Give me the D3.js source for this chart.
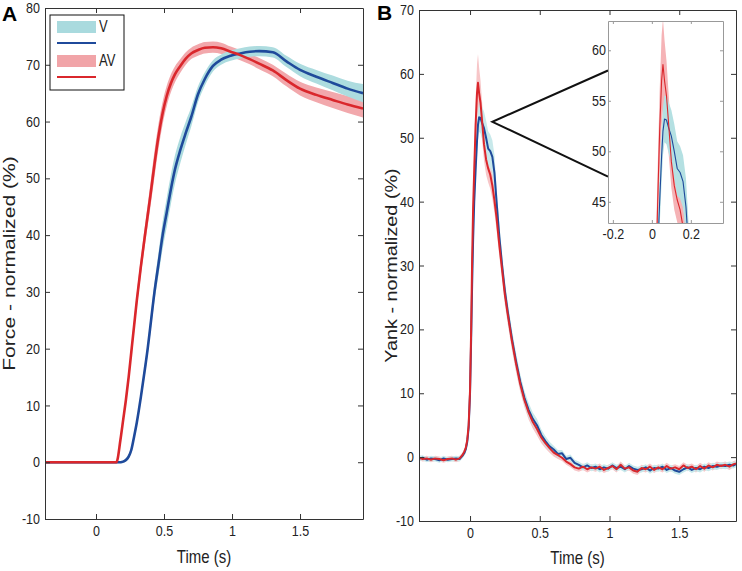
<!DOCTYPE html>
<html>
<head>
<meta charset="utf-8">
<script src="https://cdn.jsdelivr.net/npm/d3@7"></script>
<style>
body { margin: 0; background: #fff; }
svg text { font-family: "Liberation Sans", Arial, sans-serif; fill: #222; }
</style>
</head>
<body>
<svg id="chart" width="742" height="571"></svg>
<script>
// ---- Panel A: force (normalized %) ----
const forceTime = [
  -0.375, 0.10, 0.15, 0.18, 0.20, 0.22, 0.24, 0.26, 0.28, 0.30,
  0.33, 0.36, 0.38, 0.40, 0.43, 0.46, 0.49, 0.52, 0.55, 0.58,
  0.62, 0.66, 0.70, 0.75, 0.80, 0.86, 0.92, 0.99, 1.06, 1.13,
  1.20, 1.30, 1.40, 1.50, 1.62, 1.74, 1.85, 1.963
];
const forceV = [
  0, 0, 0, 0, 0.1, 0.4, 1, 2.2, 4.5, 7,
  11.5, 16.5, 20, 24, 30, 35, 40, 44, 48, 51.5,
  55, 58, 60.8, 64.8, 67.5, 69.8, 70.9, 71.6, 72, 72.3,
  72.4, 72.2, 70.6, 69.1, 67.9, 66.8, 65.8, 65.0
];
const forceVsem = [
  0.2, 0.2, 0.2, 0.2, 0.2, 0.3, 0.4, 0.5, 0.6, 0.7,
  0.8, 1, 1.1, 1.3, 1.6, 2, 2.4, 2.6, 2.6, 2.5,
  2.3, 2, 1.7, 1.4, 1.2, 1, 0.9, 0.9, 0.9, 0.9,
  0.9, 0.9, 1, 1.1, 1.2, 1.3, 1.4, 1.6
];
const forceAV = [
  0, 0, 0, 4, 7.5, 11, 15, 19.5, 24, 28.5,
  34.5, 40, 43.5, 47, 52.5, 57.5, 61.5, 64.5, 66.7, 68.3,
  69.8, 71.1, 72, 72.6, 73, 73.1, 72.9, 72.3, 71.7, 71,
  70.2, 69, 67.3, 65.8, 64.7, 63.8, 63.0, 62.3
];
const forceAVsem = [
  0.2, 0.2, 0.2, 0.4, 0.6, 0.8, 1, 1.1, 1.2, 1.3,
  1.5, 1.7, 1.9, 2.1, 2.3, 2.2, 2, 1.8, 1.6, 1.4,
  1.2, 1.1, 1, 1, 1, 1, 1, 0.9, 0.9, 0.9,
  1, 1, 1.1, 1.2, 1.3, 1.4, 1.5, 1.6
];

// ---- Panel B: yank (normalized %) ----
const yankTime = [
  -0.366, -0.34, -0.31, -0.28, -0.25, -0.22, -0.19, -0.16, -0.13, -0.10,
  -0.075, -0.055, -0.04, -0.03, -0.02, -0.01, 0, 0.008, 0.015, 0.022,
  0.03, 0.04, 0.05, 0.057, 0.065, 0.075, 0.085, 0.10, 0.115, 0.13,
  0.145, 0.16, 0.175, 0.19, 0.21, 0.23, 0.25, 0.27, 0.30, 0.33,
  0.36, 0.39, 0.42, 0.45, 0.48, 0.51, 0.54, 0.57, 0.60, 0.63,
  0.66, 0.69, 0.72, 0.75, 0.78, 0.81, 0.84, 0.87, 0.90, 0.93,
  0.96, 0.99, 1.02, 1.05, 1.08, 1.11, 1.14, 1.17, 1.20, 1.23,
  1.26, 1.29, 1.32, 1.35, 1.38, 1.41, 1.44, 1.47, 1.50, 1.53,
  1.56, 1.59, 1.62, 1.65, 1.68, 1.71, 1.74, 1.77, 1.80, 1.83,
  1.86, 1.89, 1.907
];
const yankV = [
  -0.2, -0.1, -0.4, -0.2, -0.3, -0.5, -0.2, -0.4, -0.3, -0.2,
  -0.3, 0.2, 0.7, 1.3, 2.4, 4.6, 10, 18.5, 27, 34,
  40, 45, 49.5, 52, 53.2, 53.1, 52.4, 51.5, 50, 48.3,
  47.9, 47.0, 44.5, 40, 34.5, 30, 26, 22.8, 18.6, 15,
  11.8, 9.3, 7.4, 6.0, 5.0, 3.5, 2.5, 1.7, 1.2, 0.5,
  0.6, -0.3, -0.1, -0.9, -1.2, -1.6, -1.3, -1.7, -1.5, -1.9,
  -1.6, -1.8, -1.3, -1.7, -1.5, -1.9, -1.4, -1.8, -2.0, -1.9,
  -1.6, -2.1, -1.7, -1.8, -1.5, -2.0, -1.7, -2.1, -2.3, -1.9,
  -1.6, -2.0, -1.7, -1.9, -1.5, -1.7, -1.4, -1.5, -1.3, -1.4,
  -1.2, -1.3, -1.1
];
const yankVsem = [
  0.4, 0.4, 0.4, 0.4, 0.4, 0.4, 0.4, 0.4, 0.4, 0.4,
  0.4, 0.4, 0.5, 0.6, 0.8, 1, 1.3, 1.6, 2, 2.2,
  2.4, 2.5, 2.5, 2.4, 2.3, 2.4, 2.5, 2.6, 2.7, 2.7,
  2.6, 2.6, 2.8, 2.4, 2, 1.8, 1.6, 1.5, 1.4, 1.3,
  1.2, 1.1, 1.1, 1, 1, 0.9, 0.8, 0.7, 0.6, 0.6,
  0.5, 0.5, 0.5, 0.5, 0.5, 0.5, 0.5, 0.5, 0.5, 0.5,
  0.5, 0.5, 0.5, 0.5, 0.5, 0.5, 0.5, 0.5, 0.5, 0.5,
  0.5, 0.5, 0.5, 0.5, 0.5, 0.5, 0.5, 0.5, 0.5, 0.5,
  0.5, 0.5, 0.5, 0.5, 0.5, 0.5, 0.5, 0.5, 0.5, 0.5,
  0.5, 0.5, 0.5
];
const yankAV = [
  -0.1, -0.3, -0.2, -0.4, -0.2, -0.3, -0.5, -0.3, -0.2, -0.4,
  -0.2, 0.3, 0.9, 1.5, 2.7, 5.0, 10.5, 20, 31, 39,
  45, 52, 57, 58.6, 57, 55.5, 53, 49, 46.6, 45.2,
  44.2, 42.5, 40.2, 37.5, 33.2, 29.3, 25.4, 22.4, 18.2, 14.6,
  11.4, 8.9, 7.0, 5.5, 4.4, 3.1, 2.2, 1.4, 0.7, 0.3,
  -0.1, -0.7, -1.1, -1.6, -1.8, -1.5, -1.9, -1.6, -1.8, -1.5,
  -2.0, -1.7, -1.4, -1.9, -1.2, -1.8, -1.6, -2.1, -2.3, -1.7,
  -1.9, -1.5, -2.0, -1.6, -1.9, -1.4, -1.8, -1.6, -1.9, -1.3,
  -1.7, -1.5, -1.9, -1.4, -1.8, -1.3, -1.6, -1.2, -1.4, -1.2,
  -1.5, -1.1, -1.0
];
const yankAVsem = [
  0.4, 0.4, 0.4, 0.4, 0.4, 0.4, 0.4, 0.4, 0.4, 0.4,
  0.4, 0.4, 0.5, 0.6, 0.8, 1, 1.5, 2, 2.5, 3,
  3.5, 4, 4.5, 4.5, 4, 3.5, 3, 2.6, 2.4, 2.2,
  2.2, 2.1, 2, 1.9, 1.8, 1.7, 1.6, 1.5, 1.4, 1.3,
  1.2, 1.1, 1.1, 1, 1, 0.9, 0.8, 0.7, 0.6, 0.6,
  0.5, 0.5, 0.5, 0.5, 0.5, 0.5, 0.5, 0.5, 0.5, 0.5,
  0.5, 0.5, 0.5, 0.5, 0.5, 0.5, 0.5, 0.5, 0.5, 0.5,
  0.5, 0.5, 0.5, 0.5, 0.5, 0.5, 0.5, 0.5, 0.5, 0.5,
  0.5, 0.5, 0.5, 0.5, 0.5, 0.5, 0.5, 0.5, 0.5, 0.5,
  0.5, 0.5, 0.5
];

// ticks
const forceXTicks = [0, 0.5, 1, 1.5];
const forceYTicks = [-10, 0, 10, 20, 30, 40, 50, 60, 70, 80];
const yankXTicks = [0, 0.5, 1, 1.5];
const yankYTicks = [-10, 0, 10, 20, 30, 40, 50, 60, 70];
const insetXTicks = [-0.2, 0, 0.2];
const insetYTicks = [45, 50, 55, 60];
const legendLabels = ['V', 'AV'];

const blue = '#1f4a9b', red = '#da272c';

const svg = d3.select('#chart');

function zipSeries(t, m, s) {
  return t.map((d, i) => ({ t: d, m: m[i], s: s[i] }));
}
const fV = zipSeries(forceTime, forceV, forceVsem);
const fAV = zipSeries(forceTime, forceAV, forceAVsem);
const yV = zipSeries(yankTime, yankV, yankVsem);
const yAV = zipSeries(yankTime, yankAV, yankAVsem);

// scales
const xA = d3.scaleLinear().domain([-0.375, 1.963]).range([45, 363]);
const yA = d3.scaleLinear().domain([-10, 80]).range([519, 8]);
const xB = d3.scaleLinear().domain([-0.366, 1.907]).range([419, 736]);
const yB = d3.scaleLinear().domain([-10, 70]).range([521, 10]);
const xI = d3.scaleLinear().domain([-0.225, 0.365]).range([608, 723]);
const yI = d3.scaleLinear().domain([42.9, 62.9]).range([223, 21]);

function clipFor(id, x, y) {
  svg.append('clipPath').attr('id', id).append('rect')
    .attr('x', x.range()[0]).attr('y', y.range()[1])
    .attr('width', x.range()[1] - x.range()[0])
    .attr('height', y.range()[0] - y.range()[1]);
}

function drawSeries(g, x, y, data, bandColor, lineColor, lw, curve) {
  const area = d3.area().curve(curve)
    .x(d => x(d.t)).y0(d => y(d.m - d.s)).y1(d => y(d.m + d.s));
  const line = d3.line().curve(curve).x(d => x(d.t)).y(d => y(d.m));
  return {
    band: () => g.append('path').datum(data).attr('d', area).attr('fill', bandColor),
    line: () => g.append('path').datum(data).attr('d', line)
      .attr('fill', 'none').attr('stroke', lineColor).attr('stroke-width', lw)
      .attr('stroke-linejoin', 'round')
  };
}

function drawAxes(g, x, y, xTicks, yTicks, o) {
  const [x0, x1] = x.range(), [y0, y1] = y.range();
  const fmt = d => String(d);
  const b = g.append('g').attr('transform', `translate(0,${y0})`)
    .call(d3.axisBottom(x).tickValues(xTicks).tickFormat(fmt)
      .tickSizeInner(-o.tick).tickSizeOuter(0).tickPadding(o.padX));
  g.append('g').attr('transform', `translate(0,${y1})`)
    .call(d3.axisTop(x).tickValues(xTicks).tickFormat('')
      .tickSizeInner(-o.tick).tickSizeOuter(0));
  const l = g.append('g').attr('transform', `translate(${x0},0)`)
    .call(d3.axisLeft(y).tickValues(yTicks).tickFormat(fmt)
      .tickSizeInner(-o.tick).tickSizeOuter(0).tickPadding(o.padY));
  g.append('g').attr('transform', `translate(${x1},0)`)
    .call(d3.axisRight(y).tickValues(yTicks).tickFormat('')
      .tickSizeInner(-o.tick).tickSizeOuter(0));
  g.selectAll('.domain').attr('stroke', o.frame).attr('stroke-width', o.fw);
  g.selectAll('.tick line').attr('stroke', o.frame).attr('stroke-width', o.fw);
  [b, l].forEach(a => a.attr('font-family', null).attr('font-size', null));
  g.selectAll('.tick text').attr('font-size', o.fs).style('fill', '#222')
    .attr('transform', 'scale(1,1.15)');
}

// ---- Panel A ----
clipFor('clipA', xA, yA);
const gA = svg.append('g');
const plotA = gA.append('g').attr('clip-path', 'url(#clipA)');
const sAV = drawSeries(plotA, xA, yA, fAV, '#f2a8ac', red, 2.6, d3.curveMonotoneX);
const sV = drawSeries(plotA, xA, yA, fV, '#addcdf', blue, 2.6, d3.curveMonotoneX);
sAV.band(); sV.band(); sV.line(); sAV.line();
drawAxes(gA, xA, yA, forceXTicks, forceYTicks,
  { tick: 5, padX: 6, padY: 5, frame: '#333', fw: 1, fs: 12.5 });

// legend
const leg = gA.append('g');
leg.append('rect').attr('x', 50).attr('y', 15).attr('width', 74).attr('height', 75)
  .attr('fill', '#fff').attr('stroke', '#111').attr('stroke-width', 1);
const legColors = [['#a9dade', blue], ['#f1a4a8', red]];
legendLabels.forEach((lab, i) => {
  const y0 = 21 + i * 34;
  leg.append('rect').attr('x', 57).attr('y', y0).attr('width', 39).attr('height', 12)
    .attr('fill', legColors[i][0]);
  leg.append('line').attr('x1', 57).attr('x2', 96).attr('y1', y0 + 22).attr('y2', y0 + 22)
    .attr('stroke', legColors[i][1]).attr('stroke-width', 2.2);
  leg.append('text').attr('transform', `translate(99,${y0 + 11}) scale(1,1.3)`)
    .attr('font-size', 13).text(lab);
});

// ---- Panel B ----
clipFor('clipB', xB, yB);
const gB = svg.append('g');
const plotB = gB.append('g').attr('clip-path', 'url(#clipB)');
const bAV = drawSeries(plotB, xB, yB, yAV, '#f7c6c8', red, 2, d3.curveLinear);
const bV = drawSeries(plotB, xB, yB, yV, '#c8e9eb', blue, 2, d3.curveLinear);
bAV.band(); bV.band(); bV.line(); bAV.line();
drawAxes(gB, xB, yB, yankXTicks, yankYTicks,
  { tick: 5, padX: 6, padY: 5, frame: '#333', fw: 1, fs: 12.5 });

// zoom pointer lines
const zx = xB(0.16), zy = yB(52.5);
gB.append('path')
  .attr('d', `M${xI.range()[0]},${yI(58)}L${zx},${zy}L${xI.range()[0]},${yI(47.5)}`)
  .attr('fill', 'none').attr('stroke', '#111').attr('stroke-width', 2);

// ---- Inset ----
clipFor('clipI', xI, yI);
const gI = svg.append('g');
gI.append('rect').attr('x', 608).attr('y', 21).attr('width', 115).attr('height', 202)
  .attr('fill', '#fff');
const plotI = gI.append('g').attr('clip-path', 'url(#clipI)');
const iAV = drawSeries(plotI, xI, yI, yAV, '#f5b3b6', red, 1.1, d3.curveLinear);
const iV = drawSeries(plotI, xI, yI, yV, '#b4e0e2', blue, 1.1, d3.curveLinear);
iAV.band(); iV.band(); iV.line(); iAV.line();
drawAxes(gI, xI, yI, insetXTicks, insetYTicks,
  { tick: 3, padX: 5, padY: 2, frame: '#999', fw: 1, fs: 12.5 });

// ---- titles ----
svg.append('text').attr('x', 2).attr('y', 21).attr('font-size', 21)
  .attr('font-weight', 'bold').style('fill', '#000').text('A');
svg.append('text').attr('x', 377).attr('y', 20).attr('font-size', 21)
  .attr('font-weight', 'bold').style('fill', '#000').text('B');

svg.append('text').attr('text-anchor', 'middle')
  .attr('transform', `translate(${(xA.range()[0] + xA.range()[1]) / 2},563) scale(1,1.2)`)
  .attr('font-size', 15).text('Time (s)');
svg.append('text').attr('text-anchor', 'middle')
  .attr('transform', `translate(${(xB.range()[0] + xB.range()[1]) / 2},564) scale(1,1.2)`)
  .attr('font-size', 15).text('Time (s)');

svg.append('text').attr('text-anchor', 'middle')
  .attr('transform', `translate(15,${(yA.range()[0] + yA.range()[1]) / 2}) rotate(-90) scale(1.28,1)`)
  .attr('font-size', 16.5).text('Force - normalized (%)');
svg.append('text').attr('text-anchor', 'middle')
  .attr('transform', `translate(397,${(yB.range()[0] + yB.range()[1]) / 2}) rotate(-90) scale(1.2,1)`)
  .attr('font-size', 16.5).text('Yank - normalized (%)');
</script>
</body>
</html>
